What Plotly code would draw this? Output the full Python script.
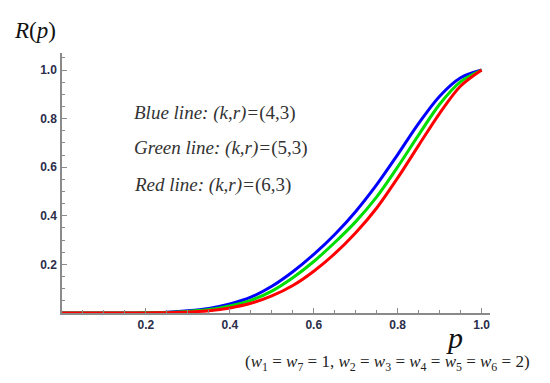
import plotly.graph_objects as go

p = [0.0, 0.1, 0.15, 0.2, 0.25, 0.3, 0.35, 0.4, 0.45, 0.5, 0.55, 0.6, 0.65, 0.7, 0.75, 0.8, 0.85, 0.9, 0.95, 1.0]
blue = [0.0, 0.0, 0.0002, 0.001, 0.0035, 0.009, 0.019, 0.037, 0.065, 0.11, 0.17, 0.241, 0.323, 0.418, 0.528, 0.652, 0.78, 0.892, 0.968, 1.0]
green = [0.0, 0.0, 0.0001, 0.0007, 0.0025, 0.0065, 0.014, 0.029, 0.052, 0.09, 0.145, 0.212, 0.29, 0.376, 0.478, 0.601, 0.733, 0.859, 0.952, 1.0]
red = [0.0, 0.0, 0.0001, 0.0004, 0.0015, 0.004, 0.0095, 0.021, 0.04, 0.07, 0.113, 0.172, 0.244, 0.33, 0.432, 0.556, 0.69, 0.822, 0.934, 1.0]

series = [("Blue", blue, "#0000ff"), ("Green", green, "#00dd00"), ("Red", red, "#ff0000")]
labels = ["<i>Blue line: (k,r)=</i>(4,3)", "<i>Green line: (k,r)=</i>(5,3)", "<i>Red line: (k,r)=</i>(6,3)"]
label_y = [0.823, 0.679, 0.527]
xticks = [0.2, 0.4, 0.6, 0.8, 1.0]
yticks = [0.2, 0.4, 0.6, 0.8, 1.0]

fig = go.Figure()
for name, ys, col in series:
    fig.add_trace(go.Scatter(x=p, y=ys, mode="lines", name=name,
                             line=dict(color=col, width=3, shape="spline", smoothing=0.9),
                             cliponaxis=False, showlegend=False, hoverinfo="skip"))

axcol = "#8a8a8a"
tickfont = dict(family="Liberation Sans", size=12, color="#2b2d4a", weight="bold")
fig.update_xaxes(range=[0, 1.02], showgrid=False, zeroline=False, showline=True, automargin=False,
                 linecolor=axcol, linewidth=1.5, ticks="inside", ticklen=5, tickcolor=axcol,
                 tickvals=xticks, ticktext=[f"{v:.1f}" for v in xticks], tickfont=tickfont,
                 minor=dict(dtick=0.05, tick0=0, ticks="inside", ticklen=3, tickcolor=axcol))
fig.update_yaxes(range=[0, 1.07], showgrid=False, zeroline=False, showline=True, automargin=False,
                 linecolor=axcol, linewidth=1.5, ticks="inside", ticklen=5, tickcolor=axcol,
                 tickvals=yticks, ticktext=[f"{v:.1f}" for v in yticks], tickfont=tickfont,
                 ticklabelstandoff=1,
                 minor=dict(dtick=0.05, tick0=0, ticks="inside", ticklen=3, tickcolor=axcol))

# small axis overhangs past the origin
fig.add_shape(type="line", xref="x", yref="y", x0=-0.022, x1=0, y0=0, y1=0,
              line=dict(color=axcol, width=1.5))
fig.add_shape(type="line", xref="x", yref="y", x0=0, x1=0, y0=-0.058, y1=0,
              line=dict(color=axcol, width=1.5))

serif = "Liberation Serif"
for t, yy in zip(labels, label_y):
    fig.add_annotation(x=0.167, y=yy, xref="x", yref="y", text=t, showarrow=False,
                       xanchor="left", yanchor="middle",
                       font=dict(family=serif, size=19, color="#333333"))

fig.add_annotation(x=-0.117, y=1.088, xref="paper", yref="paper", text="<i>R</i>(<i>p</i>)",
                   showarrow=False, xanchor="left", yanchor="middle",
                   font=dict(family=serif, size=23, color="#111111"))
fig.add_annotation(x=0.918, y=-0.096, xref="paper", yref="paper", text="<i>p</i>", showarrow=False,
                   xanchor="center", yanchor="middle", font=dict(family=serif, size=30, color="#111111"))
fig.add_annotation(x=1.098, y=-0.192, xref="paper", yref="paper",
                   text="(<i>w</i><sub>1</sub> = <i>w</i><sub>7</sub> = 1, <i>w</i><sub>2</sub> = <i>w</i><sub>3</sub> = <i>w</i><sub>4</sub> = <i>w</i><sub>5</sub> = <i>w</i><sub>6</sub> = 2)",
                   showarrow=False, xanchor="right", yanchor="middle",
                   font=dict(family=serif, size=17, color="#222222"))

fig.update_layout(width=550, height=383, margin=dict(l=62, r=60, t=53, b=70, autoexpand=False),
                  plot_bgcolor="white", paper_bgcolor="white", hovermode=False)
fig.write_html("out.html", config={"displayModeBar": False},
               post_script="document.body.style.margin='0';document.body.style.padding='0';")
